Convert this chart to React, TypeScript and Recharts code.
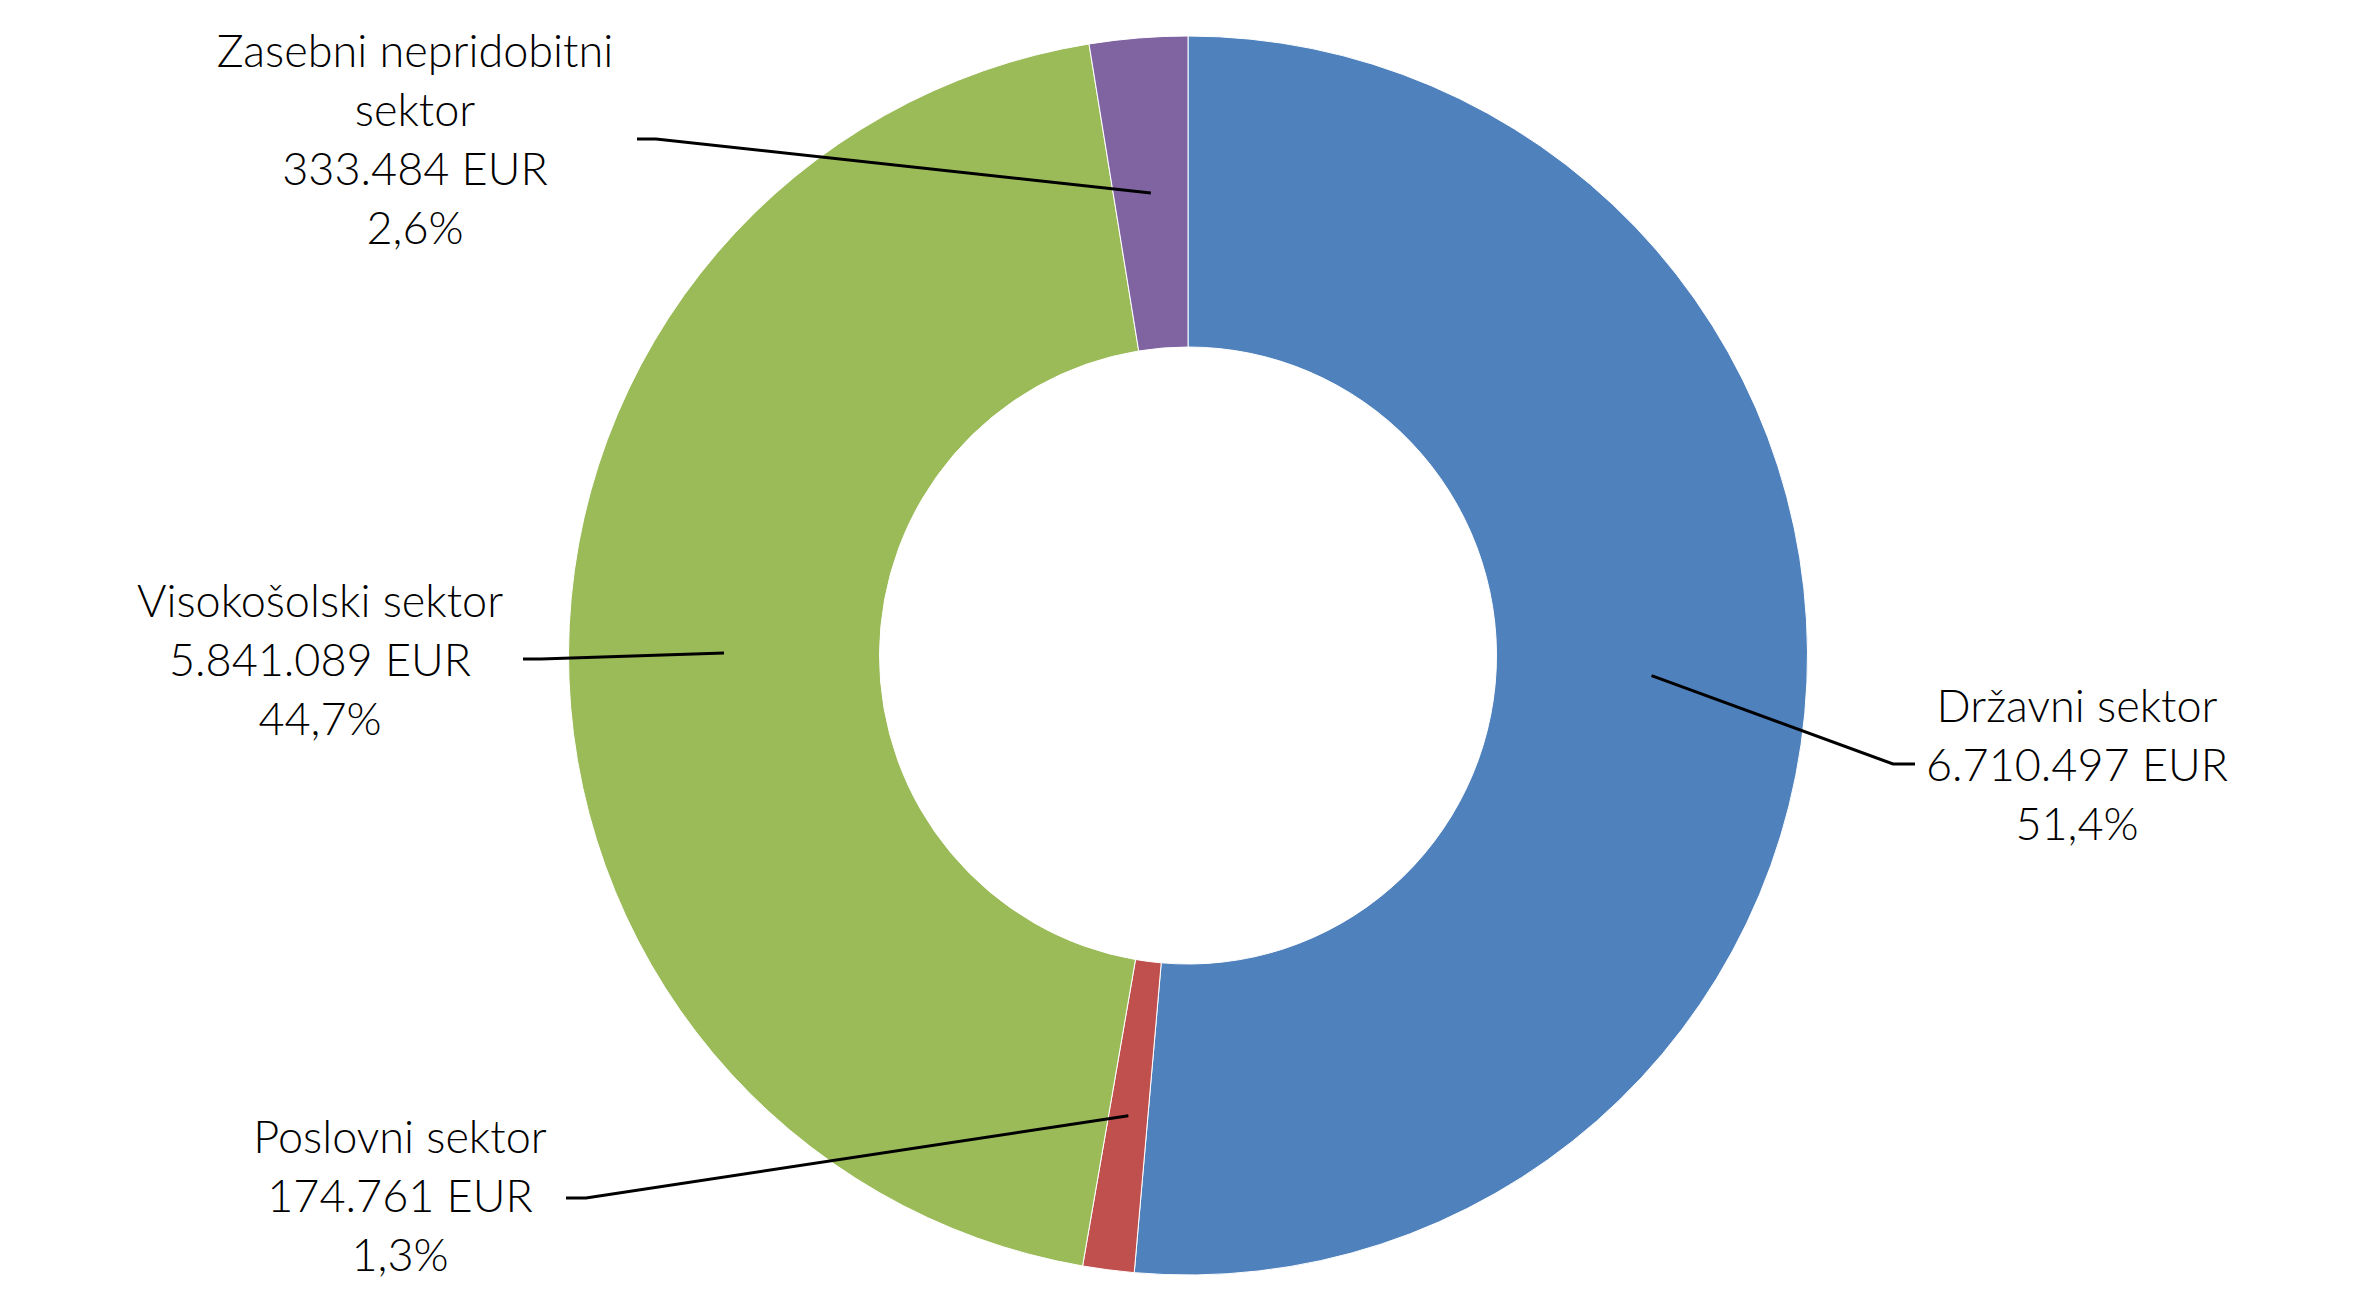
import { PieChart, Pie, Cell } from "recharts";

const sectors = [
  "Državni sektor",
  "Poslovni sektor",
  "Visokošolski sektor",
  "Zasebni nepridobitni sektor",
];
const amounts = [6710497, 174761, 5841089, 333484];
const sectorColors = ["#4F81BD", "#C0504D", "#9BBB59", "#8064A2"];

const chartData = sectors.map((name, i) => ({ name, value: amounts[i] }));

// where each label sits and how its leader line bends
const LABEL_LAYOUT: Record<
  string,
  { x: number; y: number; elbow: [number, number]; tail: number; wrap?: number }
> = {
  "Državni sektor": { x: 2077, y: 722, elbow: [1893, 764], tail: 1915 },
  "Poslovni sektor": { x: 400, y: 1153, elbow: [586, 1198], tail: 566 },
  "Visokošolski sektor": { x: 320, y: 617, elbow: [541, 659], tail: 523 },
  "Zasebni nepridobitni sektor": {
    x: 415,
    y: 67,
    elbow: [656, 139],
    tail: 637,
    wrap: 2,
  },
};

const LINE_GAP = 59;
const RAD = Math.PI / 180;

const formatEur = (v: number) =>
  String(v).replace(/\B(?=(\d{3})+(?!\d))/g, ".") + " EUR";
const formatPct = (p: number) => (p * 100).toFixed(1).replace(".", ",") + "%";

function renderLabel(props: any) {
  const { cx, cy, midAngle, innerRadius, outerRadius, name, value, percent } =
    props;
  const layout = LABEL_LAYOUT[name];
  if (!layout) return null;
  const r = (innerRadius + outerRadius) / 2;
  const ax = cx + r * Math.cos(-midAngle * RAD);
  const ay = cy + r * Math.sin(-midAngle * RAD);
  const words = name.split(" ");
  const nameLines = layout.wrap
    ? [words.slice(0, layout.wrap).join(" "), words.slice(layout.wrap).join(" ")]
    : [name];
  const lines = [...nameLines, formatEur(value), formatPct(percent)];
  return (
    <g key={name}>
      <polyline
        points={`${ax},${ay} ${layout.elbow[0]},${layout.elbow[1]} ${layout.tail},${layout.elbow[1]}`}
        fill="none"
        stroke="#000"
        strokeWidth={3}
      />
      <text
        x={layout.x}
        y={layout.y}
        textAnchor="middle"
        fill="#000"
        fontSize={45}
        fontWeight={300}
        fontFamily="Lato, 'Open Sans', sans-serif"
      >
        {lines.map((line, i) => (
          <tspan key={i} x={layout.x} y={layout.y + i * LINE_GAP}>
            {line}
          </tspan>
        ))}
      </text>
    </g>
  );
}

export default function App() {
  return (
    <div
      style={{
        position: "absolute",
        left: 0,
        top: 0,
        width: 2377,
        height: 1307,
        background: "#fff",
      }}
    >
      <PieChart
        width={2377}
        height={1307}
        margin={{ top: 0, right: 0, bottom: 0, left: 0 }}
      >
        <Pie
          data={chartData}
          dataKey="value"
          nameKey="name"
          cx={1188}
          cy={655.5}
          innerRadius={308.5}
          outerRadius={619.5}
          startAngle={90}
          endAngle={-270}
          stroke="#fff"
          strokeWidth={1}
          label={renderLabel}
          labelLine={false}
          isAnimationActive={false}
        >
          {chartData.map((entry, i) => (
            <Cell key={entry.name} fill={sectorColors[i]} />
          ))}
        </Pie>
      </PieChart>
    </div>
  );
}
